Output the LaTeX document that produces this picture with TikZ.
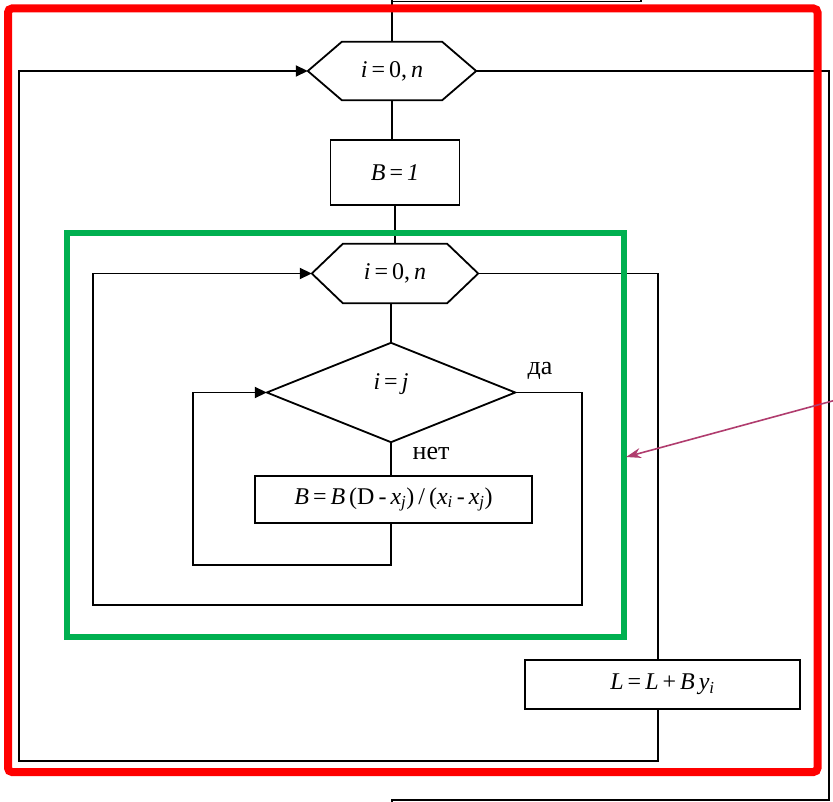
\documentclass[tikz,border=0pt]{standalone}
\usepackage{fontspec}
\setmainfont{Liberation Serif}
\usetikzlibrary{arrows.meta,calc}
\newcommand\vi[1]{\textit{#1}}
\newcommand\sub[1]{\textsubscript{\textit{#1}}}
\newcommand\hexpath[2]{\draw[flow] (#1.west) -- ([xshift=#2]#1.north west) -- ([xshift=-#2]#1.north east) -- (#1.east) -- ([xshift=-#2]#1.south east) -- ([xshift=#2]#1.south west) -- cycle;}
\definecolor{frred}{RGB}{255,0,0}
\definecolor{frgreen}{RGB}{0,176,80}
\definecolor{berry}{RGB}{176,60,110}
\begin{document}
\begin{tikzpicture}[x=1pt,y=-1pt,
  flow/.style={line width=1.8pt, black},
  txt/.style={font=\fontsize{24}{28}\selectfont, inner sep=0pt},
  blk/.style={draw, line width=1.8pt, inner sep=0pt, font=\fontsize{24}{28}\selectfont},
  shp/.style={inner sep=0pt, font=\fontsize{24}{28}\selectfont},
  arr/.style={flow, -{Triangle[length=12pt,width=11pt]}},
]
\fill[white] (0,0) rectangle (833,802);
\useasboundingbox (0,0) rectangle (833,802);

% nodes
\node[shp, minimum width=168pt, minimum height=58pt] (h1) at (392,71) {\vi{i}\,=\,0,\,\vi{n}};
\node[blk, minimum width=129pt, minimum height=65pt] (bB) at (395,172.5) {\vi{B}\,=\,\vi{1}};
\node[shp, minimum width=166pt, minimum height=59pt] (h2) at (395,273.5) {\vi{i}\,=\,0,\,\vi{n}};
\node[shp, minimum width=248pt, minimum height=99pt] (d) at (391,392.5) {};
\node[txt] (dt) at (391,384) {\vi{i}\,=\,\vi{j}};
\node[blk, minimum width=277pt, minimum height=47pt] (bF) at (393.5,499.5) {\vi{B}\,=\,\vi{B}\,(D\,-\,\vi{x}\sub{j})\,/\,(\vi{x}\sub{i}\,-\,\vi{x}\sub{j})};
\node[blk, minimum width=275pt, minimum height=49pt] (bL) at (662.5,684.5) {\vi{L}\,=\,\vi{L}\,+\,\vi{B}\,\vi{y}\sub{i}};
\node[txt, font=\fontsize{26}{30}\selectfont] (yes) at (540,371) {да};
\node[txt, font=\fontsize{26}{30}\selectfont] (no) at (431,454) {нет};

% shapes
\hexpath{h1}{34}
\hexpath{h2}{31}
\draw[flow] (d.west) -- (d.north) -- (d.east) -- (d.south) -- cycle;

% incoming from top (cut off)
\coordinate (tin) at (392,0);
\draw[flow] (tin) -- (h1.north);
\draw[flow] (392,0) -- (392,1.5) -- (641,1.5) -- (641,0);

% main flow
\draw[flow] (h1.south) -- (h1.south |- bB.north);
\draw[flow] (bB.south) -- (bB.south |- h2.north);
\draw[flow] (h2.south -| d.south) -- (d.north);
\draw[flow] (d.south) -- (d.south |- bF.north);

% outer exit
\coordinate (oexit) at (392,802);
\draw[flow] (h1.east) -- (829,71) -- (829,800) -- (392,800) -- (oexit);

% outer loop back
\draw[arr] ($(bL.south)+(-4.5,0)$) -- (658,761) -- (19,761) -- (19,71) -- (h1.west);

% inner exit to L box
\draw[flow] (h2.east) -- (658,273.5) -- ($(bL.north)+(-4.5,0)$);

% inner loop (yes branch)
\draw[arr] (d.east) -- (582,392.5) -- (582,605) -- (93,605) -- (93,273.5) -- (h2.west);

% after B box back to diamond
\draw[arr] (d.south |- bF.south) -- (391,565) -- (193,565) -- (193,392.5) -- (d.west);

% annotation frames
\draw[frred, line width=8pt, rounded corners=4pt] (8,8.5) rectangle (817.5,772);
\draw[frgreen, line width=6pt] (67,233.5) rectangle (624,637);
\coordinate (gtip) at (626,457);
\draw[berry, line width=1.6pt, -{Stealth[length=15pt,width=10pt]}] (836,400) -- (gtip);
\end{tikzpicture}
\end{document}
